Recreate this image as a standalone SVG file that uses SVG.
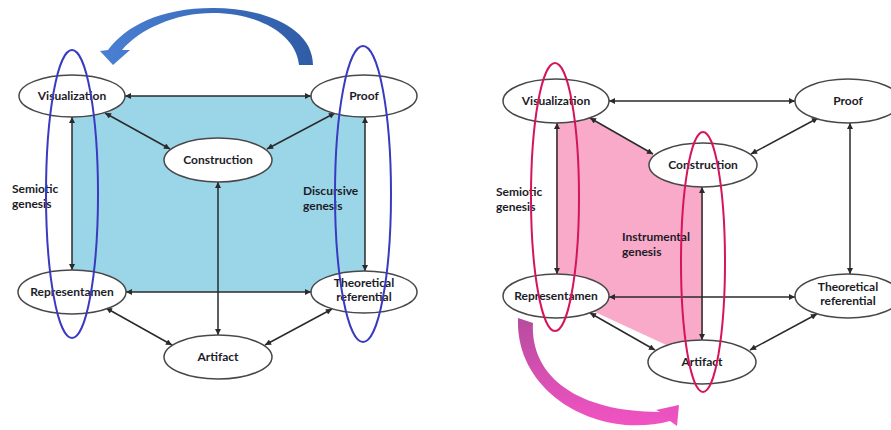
<svg xmlns="http://www.w3.org/2000/svg" width="891" height="430" viewBox="0 0 891 430">
<defs>
<marker id="ah" viewBox="0 0 10 10" refX="10" refY="5" markerWidth="8" markerHeight="6" markerUnits="userSpaceOnUse" orient="auto-start-reverse">
<path d="M0,0 L10,5 L0,10 Z" fill="#2a2a2a"/>
</marker>
<linearGradient id="gb" x1="0" y1="0" x2="1" y2="0">
<stop offset="0" stop-color="#4a80d4"/>
<stop offset="1" stop-color="#2f5ca6"/>
</linearGradient>
<linearGradient id="gp" x1="0" y1="0" x2="0" y2="1">
<stop offset="0" stop-color="#b64c9e"/>
<stop offset="1" stop-color="#f253c3"/>
</linearGradient>
</defs>
<style>
.node ellipse{fill:#fff;stroke:#484848;stroke-width:1.5}
.node text,.lbl{font-family:Lato,"Liberation Sans",sans-serif;font-weight:bold;font-size:12px;fill:#1c1c28}
.node text{text-anchor:middle}
.c{stroke:#2a2a2a;stroke-width:1.5;fill:none;marker-start:url(#ah);marker-end:url(#ah)}
.loopB{fill:none;stroke:#3a3ac0;stroke-width:2}
.loopP{fill:none;stroke:#d6145c;stroke-width:2}
</style>
<rect width="891" height="430" fill="#fff"/>
<!-- fills -->
<rect x="72" y="96" width="293" height="196" fill="#9bd6e8"/>
<polygon points="556,99 703,183 703,362 556,294" fill="#f8aac8"/>
<!-- big arrows -->
<path d="M313,65 C313,28 265,8 213,8 C160,8 126,26 108,50 L100,51 L113,65 L130,50 L122,50 C140,29 175,13 213,13 C255,13 296,32 299,65 Z" fill="url(#gb)"/>
<path d="M518,318 L533,323 C530,375 575,412 660,412 L656,410 L679,405 L677,426 L670,421 C600,440 515,395 518,318 Z" fill="url(#gp)"/>
<g id="connectors">
<line class="c" x1="125" y1="96" x2="311" y2="96"/>
<line class="c" x1="105" y1="113" x2="170" y2="149"/>
<line class="c" x1="335" y1="113" x2="267" y2="149"/>
<line class="c" x1="72" y1="117" x2="72" y2="270"/>
<line class="c" x1="365" y1="117" x2="365" y2="271"/>
<line class="c" x1="218" y1="182" x2="218" y2="335"/>
<line class="c" x1="126" y1="292" x2="311" y2="292"/>
<line class="c" x1="106" y1="308" x2="172" y2="345"/>
<line class="c" x1="332" y1="309" x2="265" y2="345"/>
<line class="c" x1="609" y1="101" x2="795" y2="101"/>
<line class="c" x1="590" y1="118" x2="653" y2="154"/>
<line class="c" x1="818" y1="118" x2="751" y2="154"/>
<line class="c" x1="557" y1="123" x2="557" y2="274"/>
<line class="c" x1="850" y1="123" x2="850" y2="274"/>
<line class="c" x1="702" y1="187" x2="702" y2="340"/>
<line class="c" x1="609" y1="297" x2="795" y2="297"/>
<line class="c" x1="590" y1="313" x2="655" y2="350"/>
<line class="c" x1="817" y1="314" x2="750" y2="350"/>
</g>
<g id="L-visualization" class="node"><ellipse cx="72" cy="96" rx="53" ry="21"/><text x="72" y="100">Visualization</text></g>
<g id="L-proof" class="node"><ellipse cx="364" cy="96" rx="53" ry="21"/><text x="364" y="100">Proof</text></g>
<g id="L-construction" class="node"><ellipse cx="218" cy="160" rx="54" ry="22"/><text x="218" y="164">Construction</text></g>
<g id="L-representamen" class="node"><ellipse cx="72" cy="292" rx="54" ry="22"/><text x="72" y="296">Representamen</text></g>
<g id="L-theoretical" class="node"><ellipse cx="364" cy="292" rx="53" ry="21"/><text x="364" y="287">Theoretical</text><text x="364" y="301">referential</text></g>
<g id="L-artifact" class="node"><ellipse cx="218" cy="357" rx="54" ry="22"/><text x="218" y="361">Artifact</text></g>
<g id="R-visualization" class="node"><ellipse cx="556" cy="101" rx="53" ry="22"/><text x="556" y="105">Visualization</text></g>
<g id="R-proof" class="node"><ellipse cx="848" cy="101" rx="53" ry="22"/><text x="848" y="105">Proof</text></g>
<g id="R-construction" class="node"><ellipse cx="703" cy="165" rx="54" ry="22"/><text x="703" y="169">Construction</text></g>
<g id="R-representamen" class="node"><ellipse cx="556" cy="296" rx="53" ry="22"/><text x="556" y="300">Representamen</text></g>
<g id="R-theoretical" class="node"><ellipse cx="848" cy="296" rx="53" ry="22"/><text x="848" y="291">Theoretical</text><text x="848" y="305">referential</text></g>
<g id="R-artifact" class="node"><ellipse cx="702" cy="362" rx="54" ry="22"/><text x="702" y="366">Artifact</text></g>
<g id="labels">
<text class="lbl" x="12" y="193">Semiotic</text><text class="lbl" x="12" y="208">genesis</text>
<text class="lbl" x="303" y="195">Discursive</text><text class="lbl" x="303" y="210">genesis</text>
<text class="lbl" x="496" y="196">Semiotic</text><text class="lbl" x="496" y="211">genesis</text>
<text class="lbl" x="622" y="241">Instrumental</text><text class="lbl" x="622" y="256">genesis</text>
</g>
<g id="loops">
<ellipse class="loopB" cx="72" cy="194" rx="26" ry="144"/>
<ellipse class="loopB" cx="363" cy="194" rx="28" ry="148"/>
<ellipse class="loopP" cx="555" cy="197" rx="24" ry="134"/>
<ellipse class="loopP" cx="703" cy="262" rx="22" ry="130"/>
</g>
</svg>
